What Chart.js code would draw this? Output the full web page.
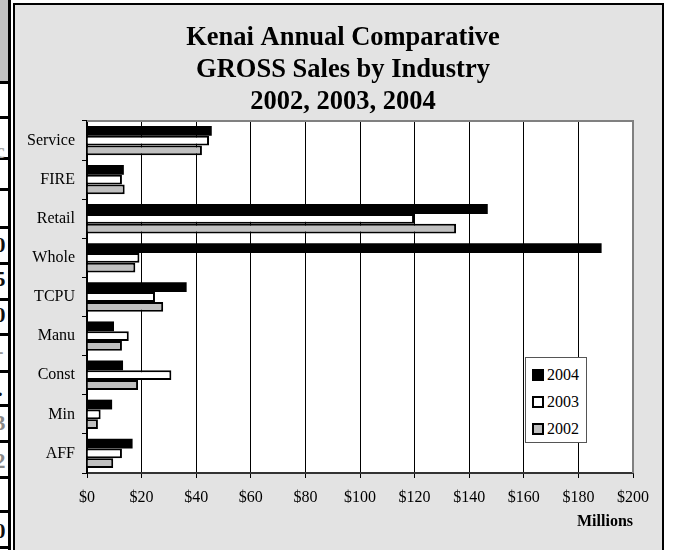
<!DOCTYPE html>
<html>
<head>
<meta charset="utf-8">
<script src="https://cdn.jsdelivr.net/npm/chart.js@4.4.1/dist/chart.umd.min.js"></script>
<style>
  html, body { margin: 0; padding: 0; width: 674px; height: 550px; overflow: hidden; background: #fff; }
  #strip { position: absolute; left: 0; top: 0; width: 8px; height: 550px; border-right: 3px solid #000; overflow: hidden; background: #fff; }
  #strip .top { position: absolute; left: 0; top: 0; width: 8px; height: 82px; background: #c0c0c0; }
  #strip .line { position: absolute; left: 0; width: 8px; height: 3px; background: #000; }
  #strip .frag { position: absolute; left: -8px; width: 16px; font: bold 22px 'Liberation Serif', serif; color: #111; text-align: center; line-height: 22px; }
  #frame { position: absolute; left: 13px; top: 3px; width: 647px; height: 560px; border: 2px solid #000; background: #e3e3e3; }
  #wrap { position: absolute; left: 0; top: 0; width: 674px; height: 550px; }
  #legend { position: absolute; left: 525px; top: 357px; width: 60px; height: 81px; border: 1px solid #555; background: #fff; padding-top: 3px; box-sizing: content-box; }
  #legend .item { height: 27px; display: flex; align-items: center; font: 16px 'Liberation Serif', serif; color: #000; }
  #legend .box { width: 8px; height: 8px; margin: 0 3px 0 6px; border: 2px solid #000; }
</style>
</head>
<body>
<div id="strip">
  <div class="top"></div>
  <div class="line" style="top:81px"></div>
  <div class="line" style="top:116px"></div>
  <div class="line" style="top:157px"></div>
  <div class="line" style="top:188px"></div>
  <div class="line" style="top:226px"></div>
  <div class="line" style="top:262px"></div>
  <div class="line" style="top:298px"></div>
  <div class="line" style="top:333px"></div>
  <div class="line" style="top:370px"></div>
  <div class="line" style="top:404px"></div>
  <div class="line" style="top:440px"></div>
  <div class="line" style="top:476px"></div>
  <div class="line" style="top:510px"></div>
  <div class="line" style="top:546px"></div>
  <div class="frag" style="top:140px;color:#aaa">c</div>
  <div class="frag" style="top:234px">0</div>
  <div class="frag" style="top:268px">5</div>
  <div class="frag" style="top:304px">0</div>
  <div class="frag" style="top:340px;color:#999">-</div>
  <div class="frag" style="top:378px">.</div>
  <div class="frag" style="top:412px;color:#888">3</div>
  <div class="frag" style="top:450px;color:#888">2</div>
  <div class="frag" style="top:520px">0</div>
</div>
<div id="frame"></div>
<div id="wrap"><canvas id="salesChart" width="674" height="550"></canvas></div>
<div id="legend"></div>
<script>
// Gross sales in millions of dollars
const industries = ['Service', 'FIRE', 'Retail', 'Whole', 'TCPU', 'Manu', 'Const', 'Min', 'AFF'];
const sales2004 = [45.7, 13.5, 146.8, 188.5, 36.5, 9.9, 13.2, 9.2, 16.7];
const sales2003 = [44.7, 12.8, 119.8, 19.2, 24.9, 15.3, 30.9, 5.0, 12.8];
const sales2002 = [42.1, 13.8, 135.2, 17.7, 27.9, 12.8, 18.7, 4.0, 9.6];
const xTicks = [0, 20, 40, 60, 80, 100, 120, 140, 160, 180, 200];
const titleLines = ['Kenai Annual Comparative', 'GROSS Sales by Industry', '2002, 2003, 2004'];

const serif = "'Liberation Serif', 'Times New Roman', serif";

// white plot area with the grey border on top and right
const plotFrame = {
    id: 'plotFrame',
    beforeDraw(chart) {
        const { ctx, chartArea: a } = chart;
        ctx.save();
        ctx.fillStyle = '#fff';
        ctx.fillRect(a.left, a.top, a.right - a.left, a.bottom - a.top);
        ctx.restore();
    },
    afterDraw(chart) {
        const { ctx, chartArea: a } = chart;
        ctx.save();
        ctx.strokeStyle = '#808080';
        ctx.lineWidth = 2;
        ctx.beginPath();
        ctx.moveTo(a.left, a.top);
        ctx.lineTo(a.right, a.top);
        ctx.lineTo(a.right, a.bottom);
        ctx.stroke();
        ctx.restore();
    }
};

const chart = new Chart(document.getElementById('salesChart'), {
    type: 'bar',
    data: {
        labels: industries,
        datasets: [
            { label: '2004', data: sales2004, backgroundColor: '#000', borderColor: '#000', borderWidth: 0 },
            { label: '2003', data: sales2003, backgroundColor: '#fff', borderColor: '#000', borderWidth: 2 },
            { label: '2002', data: sales2002, backgroundColor: '#c0c0c0', borderColor: '#000', borderWidth: 2 }
        ]
    },
    options: {
        indexAxis: 'y',
        responsive: false,
        animation: false,
        devicePixelRatio: 1,
        categoryPercentage: 0.75,
        barPercentage: 1.0,
        layout: { padding: { left: 14, right: 2, top: 0, bottom: 0 } },
        plugins: {
            legend: { display: false },
            tooltip: { enabled: false },
            title: {
                display: true,
                text: titleLines,
                color: '#000',
                font: { family: serif, size: 26.5, weight: 'bold', lineHeight: 32 / 26.5 },
                padding: { top: 22, bottom: 3 }
            }
        },
        scales: {
            x: {
                type: 'linear',
                min: 0,
                max: 200,
                afterBuildTicks: (scale) => { scale.ticks = xTicks.map(v => ({ value: v })); },
                afterFit: (scale) => { scale.height = 77; },
                ticks: {
                    color: '#000',
                    padding: 10,
                    font: { family: serif, size: 16 },
                    callback: (v) => '$' + v
                },
                grid: { color: '#000', lineWidth: 1, tickLength: 5 },
                border: { color: '#333', width: 2 },
                title: {
                    display: true,
                    text: 'Millions',
                    align: 'end',
                    color: '#000',
                    font: { family: serif, size: 16, weight: 'bold' },
                    padding: { top: 0, bottom: 19 }
                }
            },
            y: {
                afterFit: (scale) => { scale.width = 73; },
                ticks: {
                    color: '#000',
                    padding: 7,
                    font: { family: serif, size: 16 }
                },
                grid: { drawOnChartArea: false, color: '#000', tickLength: 5 },
                border: { color: '#000', width: 2 }
            },
            // empty right-hand margin so the title stays centred on the frame
            yRight: {
                type: 'category',
                position: 'right',
                afterFit: (scale) => { scale.width = 39; },
                ticks: { display: false },
                grid: { display: false },
                border: { display: false }
            }
        }
    },
    plugins: [plotFrame]
});

// legend box built from the datasets
const legendEl = document.getElementById('legend');
chart.data.datasets.forEach(ds => {
    const item = document.createElement('div');
    item.className = 'item';
    const box = document.createElement('span');
    box.className = 'box';
    box.style.background = ds.backgroundColor;
    item.appendChild(box);
    item.appendChild(document.createTextNode(ds.label));
    legendEl.appendChild(item);
});
</script>
</body>
</html>
